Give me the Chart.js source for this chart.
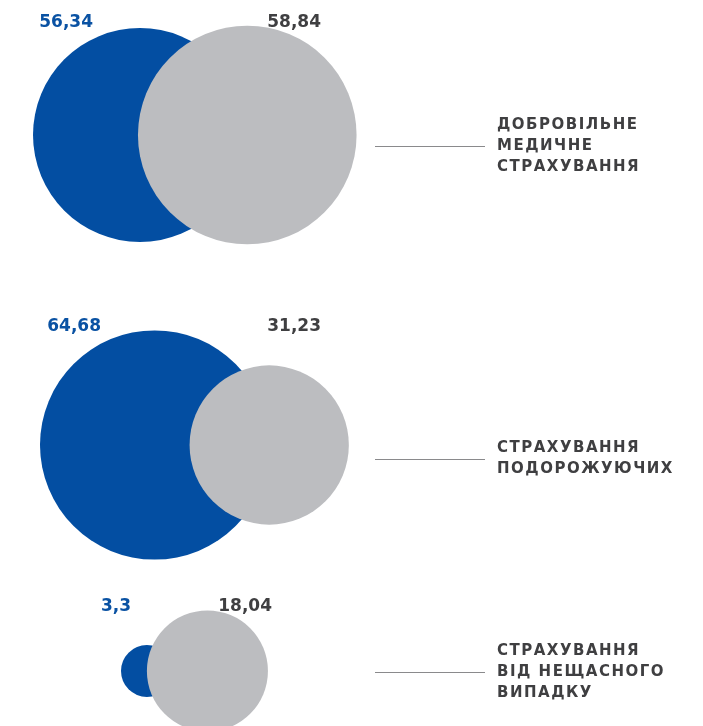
<!DOCTYPE html>
<html><head><meta charset="utf-8">
<script src="https://cdn.jsdelivr.net/npm/chart.js@4.4.1/dist/chart.umd.min.js"></script>
<style>html,body{margin:0;padding:0;background:#fff;}#wrap{width:703px;height:726px;}</style>
</head><body><div id="wrap"><canvas id="c" width="703" height="726"></canvas></div>
<script>
// ---- data ----
const categories = [
  ['ДОБРОВІЛЬНЕ', 'МЕДИЧНЕ', 'СТРАХУВАННЯ'],
  ['СТРАХУВАННЯ', 'ПОДОРОЖУЮЧИХ'],
  ['СТРАХУВАННЯ', 'ВІД НЕЩАСНОГО', 'ВИПАДКУ']
];
const blueValues = [56.34, 64.68, 3.3];
const grayValues = [58.84, 31.23, 18.04];
const blueLabels = ['56,34', '64,68', '3,3'];
const grayLabels = ['58,84', '31,23', '18,04'];

// ---- layout (pixels) ----
const BLUE = '#034ea2', GRAY = '#bcbdc0', TEXT = '#3f3f41', LABELBLUE = '#0a52a3';
const K = 14.25;                      // radius = K * sqrt(value)  (area proportional)
const rowY = [135, 445, 671];
const leftEdge = [33, 40, 121];       // left edge of blue circle
const blueLabelRight = [93, 101, 131];
const grayLabelRight = [321, 321, 272];
const catLineY = [146, 459, 672];

const rad = v => K * Math.sqrt(v);
const bluePts = blueValues.map((v, i) => ({x: leftEdge[i] + rad(v), y: rowY[i], r: rad(v)}));
const grayPts = grayValues.map((v, i) => {
  const rb = rad(blueValues[i]), rg = rad(v);
  // smaller circle's centre sits on the larger circle's edge
  return {x: bluePts[i].x + Math.max(rb, rg) - (i === 0 ? 2 : 0), y: rowY[i], r: rg};
});

const labelPlugin = {
  id: 'labels',
  afterDatasetsDraw(chart) {
    const ctx = chart.ctx, xs = chart.scales.x, ys = chart.scales.y;
    ctx.save();
    ctx.font = 'bold 17px "DejaVu Sans"';
    ctx.textBaseline = 'alphabetic';
    ctx.textAlign = 'right';
    for (let i = 0; i < 3; i++) {
      const top = ys.getPixelForValue(rowY[i]) - Math.max(bluePts[i].r, grayPts[i].r);
      const base = top + 1;
      ctx.fillStyle = LABELBLUE;
      ctx.fillText(blueLabels[i], xs.getPixelForValue(blueLabelRight[i]), base);
      ctx.fillStyle = TEXT;
      ctx.fillText(grayLabels[i], xs.getPixelForValue(grayLabelRight[i]), base);
    }
    // categories
    ctx.textAlign = 'left';
    ctx.textBaseline = 'middle';
    ctx.font = 'bold 15px "DejaVu Sans"';
    try { ctx.letterSpacing = '1.5px'; } catch (e) {}
    for (let i = 0; i < 3; i++) {
      const y = ys.getPixelForValue(catLineY[i]);
      ctx.strokeStyle = '#8a8a8c';
      ctx.lineWidth = 1;
      ctx.beginPath();
      ctx.moveTo(375, Math.round(y) + 0.5);
      ctx.lineTo(485, Math.round(y) + 0.5);
      ctx.stroke();
      const lines = categories[i];
      const lh = 21;
      const y0 = y - (lines.length - 1) * lh / 2;
      ctx.fillStyle = TEXT;
      lines.forEach((t, j) => ctx.fillText(t, 497, y0 + j * lh));
    }
    ctx.restore();
  }
};

new Chart(document.getElementById('c'), {
  type: 'bubble',
  data: {
    datasets: [
      {label: 'blue', data: bluePts, backgroundColor: BLUE, borderWidth: 0, order: 2, clip: false},
      {label: 'gray', data: grayPts, backgroundColor: GRAY, borderWidth: 0, order: 1, clip: false}
    ]
  },
  options: {
    responsive: false,
    animation: false,
    layout: {padding: 0, autoPadding: false},
    plugins: {legend: {display: false}, tooltip: {enabled: false}},
    events: [],
    scales: {
      x: {type: 'linear', min: 0, max: 703, display: false},
      y: {type: 'linear', min: 0, max: 726, reverse: true, display: false}
    },
    elements: {point: {hoverRadius: 0, borderWidth: 0}}
  },
  plugins: [labelPlugin]
});
</script>
</body></html>
